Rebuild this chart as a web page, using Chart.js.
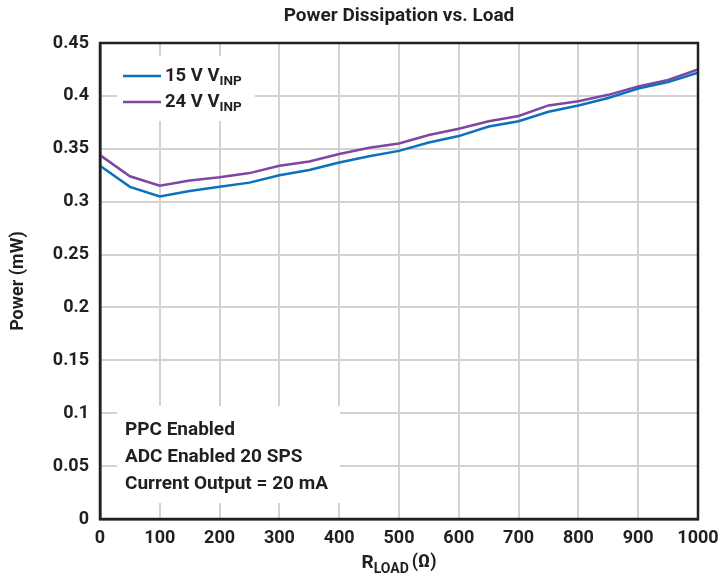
<!DOCTYPE html>
<html>
<head>
<meta charset="utf-8">
<script src="https://cdn.jsdelivr.net/npm/chart.js@4"></script>
<style>
  html, body { margin: 0; padding: 0; background: #ffffff; }
  #wrap { width: 722px; height: 580px; }
</style>
</head>
<body>
<div id="wrap"><canvas id="c" width="722" height="580"></canvas></div>
<script>
const loads = [0, 50, 100, 150, 200, 250, 300, 350, 400, 450, 500, 550, 600, 650, 700, 750, 800, 850, 900, 950, 1000];
const power15V = [0.334, 0.314, 0.305, 0.310, 0.314, 0.318, 0.325, 0.330, 0.337, 0.343, 0.348, 0.356, 0.362, 0.371, 0.376, 0.385, 0.391, 0.398, 0.407, 0.413, 0.422];
const power24V = [0.344, 0.324, 0.315, 0.320, 0.323, 0.327, 0.334, 0.338, 0.345, 0.351, 0.355, 0.363, 0.369, 0.376, 0.381, 0.391, 0.395, 0.401, 0.409, 0.415, 0.425];
const seriesNames = [["15 V V", "INP"], ["24 V V", "INP"]];
const noteLines = ["PPC Enabled", "ADC Enabled 20 SPS", "Current Output = 20 mA"];
const titleText = "Power Dissipation vs. Load";
const yTitle = "Power (mW)";
const xTitle = ["R", "LOAD", "(\u03A9)"];

const BLUE = "#0a72bd";
const PURPLE = "#7f46a2";
const INK = "#231f20";
const GRID = "#d2d2d2";
const FONT = "Roboto, 'Liberation Sans', sans-serif";

const toPts = (ys) => loads.map((x, i) => ({ x: x, y: ys[i] }));

const decor = {
  id: "decor",
  beforeDatasetsDraw(chart) {
    const { ctx, chartArea: a } = chart;
    ctx.save();
    ctx.fillStyle = "#ffffff";
    ctx.fillRect(a.left + 17, a.top + 13, 138, 65);
    ctx.fillRect(a.left + 17, a.top + 363, 223, 97);
    ctx.restore();
  },
  afterDraw(chart) {
    const { ctx, chartArea: a } = chart;
    ctx.save();
    ctx.strokeStyle = INK;
    ctx.lineWidth = 2.5;
    ctx.strokeRect(a.left, a.top, a.right - a.left, a.bottom - a.top);

    const colors = [BLUE, PURPLE];
    ctx.textBaseline = "middle";
    ctx.textAlign = "left";
    seriesNames.forEach((nm, i) => {
      const y = a.top + 33 + i * 26;
      ctx.strokeStyle = colors[i];
      ctx.lineWidth = 2.5;
      ctx.beginPath();
      ctx.moveTo(a.left + 23, y);
      ctx.lineTo(a.left + 61, y);
      ctx.stroke();
      ctx.fillStyle = INK;
      ctx.font = "bold 18.5px " + FONT;
      ctx.fillText(nm[0], a.left + 65, y);
      const w = ctx.measureText(nm[0]).width;
      ctx.font = "bold 13.5px " + FONT;
      ctx.fillText(nm[1], a.left + 65 + w, y + 6);
    });

    ctx.font = "bold 19px " + FONT;
    ctx.fillStyle = INK;
    noteLines.forEach((t, i) => {
      ctx.fillText(t, a.left + 25, a.top + 387 + i * 27);
    });

    const cx = (a.left + a.right) / 2;
    const ty = 563;
    ctx.font = "bold 19px " + FONT;
    const wR = ctx.measureText(xTitle[0]).width;
    ctx.font = "bold 14px " + FONT;
    const wSub = ctx.measureText(xTitle[1]).width;
    ctx.font = "bold 18px " + FONT;
    const wO = ctx.measureText(xTitle[2]).width;
    let x0 = cx - (wR + wSub + 3 + wO) / 2;
    ctx.font = "bold 19px " + FONT;
    ctx.fillText(xTitle[0], x0, ty);
    ctx.font = "bold 14px " + FONT;
    ctx.fillText(xTitle[1], x0 + wR, ty + 6);
    ctx.font = "bold 18px " + FONT;
    ctx.fillText(xTitle[2], x0 + wR + wSub + 3, ty - 1);
    ctx.restore();
  }
};

new Chart(document.getElementById("c"), {
  type: "line",
  data: {
    datasets: [
      { label: "15 V VINP", data: toPts(power15V), borderColor: BLUE, backgroundColor: BLUE, borderWidth: 2.5, pointRadius: 0, tension: 0, fill: false },
      { label: "24 V VINP", data: toPts(power24V), borderColor: PURPLE, backgroundColor: PURPLE, borderWidth: 2.5, pointRadius: 0, tension: 0, fill: false }
    ]
  },
  options: {
    responsive: false,
    animation: false,
    devicePixelRatio: 1,
    layout: { padding: { left: 0, right: 24, top: 0, bottom: 0 } },
    plugins: {
      legend: { display: false },
      tooltip: { enabled: false },
      title: {
        display: true,
        text: titleText,
        fullSize: false,
        color: INK,
        font: { family: FONT, size: 19, weight: "bold", lineHeight: 1.2 },
        padding: { top: 4.6, bottom: 15.6 }
      }
    },
    scales: {
      x: {
        type: "linear",
        min: 0,
        max: 1000,
        ticks: {
          stepSize: 100, color: INK, padding: 9, maxRotation: 0,
          font: { family: FONT, size: 18, weight: "bold" },
          callback: (v) => String(v)
        },
        grid: { color: GRID, lineWidth: 2, drawTicks: false },
        border: { display: true, color: INK, width: 2.5 },
        afterFit(s) { s.height = 61; s.paddingRight = 0; s.paddingLeft = 0; }
      },
      y: {
        type: "linear",
        min: 0,
        max: 0.45,
        ticks: {
          stepSize: 0.05,
          color: INK,
          padding: 11,
          font: { family: FONT, size: 18, weight: "bold" },
          callback: (v) => String(parseFloat(Number(v).toFixed(2)))
        },
        grid: { color: GRID, lineWidth: 2, drawTicks: false },
        border: { display: true, color: INK, width: 2.5 },
        title: {
          display: true,
          text: yTitle,
          color: INK,
          font: { family: FONT, size: 18, weight: "bold" },
          padding: { top: 8, bottom: 0 }
        },
        afterFit(s) { s.width = 100; s.paddingTop = 0; s.paddingBottom = 0; }
      }
    }
  },
  plugins: [decor]
});
</script>
</body>
</html>
